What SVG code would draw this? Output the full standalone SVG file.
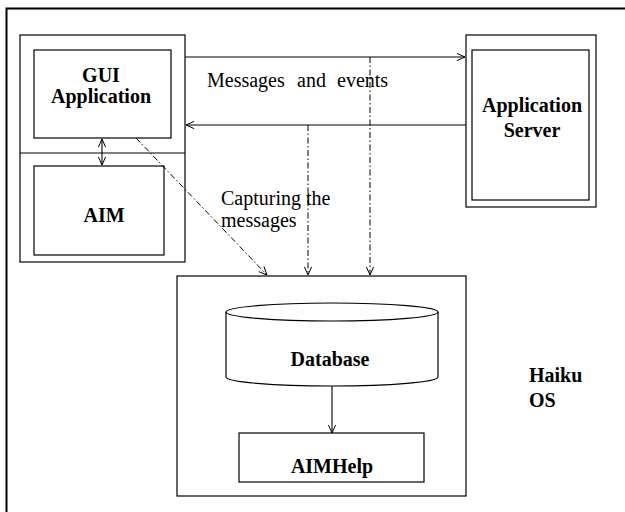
<svg xmlns="http://www.w3.org/2000/svg" width="625" height="512" viewBox="0 0 625 512">
<style>
.box{fill:#fff;stroke:#000;stroke-width:1.2}
.ln{fill:none;stroke:#000;stroke-width:1.1}
.dd{fill:none;stroke:#000;stroke-width:1;stroke-dasharray:6 2.5 1.5 2.5}
.b{font-family:"Liberation Serif","Times New Roman",serif;font-weight:bold;font-size:20px;fill:#000}
.r{font-family:"Liberation Serif","Times New Roman",serif;font-size:20px;fill:#000}
</style>
<defs>
<marker id="ah" viewBox="0 0 10 10" refX="10" refY="5" markerWidth="9" markerHeight="9" markerUnits="userSpaceOnUse" orient="auto-start-reverse">
<path d="M1,1 L10,5 L1,9" fill="none" stroke="#000" stroke-width="1.1"/>
</marker>
</defs>
<rect width="625" height="512" fill="#fff"/>
<g id="frame">
<path d="M6.5,512 L6.5,8.5 L625,8.5" fill="none" stroke="#000" stroke-width="2"/>
</g>
<g id="client">
<rect class="box" x="20" y="35" width="165" height="227"/>
<line class="ln" x1="20" y1="153" x2="185" y2="153"/>
</g>
<g id="gui">
<rect class="box" x="34" y="50" width="137" height="88"/>
<text class="b" x="101" y="82" text-anchor="middle">GUI</text>
<text class="b" x="101" y="103" text-anchor="middle">Application</text>
</g>
<g id="aim">
<rect class="box" x="34" y="166" width="130" height="89"/>
<text class="b" x="104" y="222" text-anchor="middle">AIM</text>
</g>
<g id="server">
<rect class="box" x="466" y="35" width="130" height="172"/>
<rect class="box" x="472" y="50" width="117" height="150"/>
<text class="b" x="532" y="112" text-anchor="middle">Application</text>
<text class="b" x="532" y="137" text-anchor="middle">Server</text>
</g>
<g id="haiku">
<rect class="box" x="177" y="276" width="289" height="220"/>
<text class="b" x="529" y="382">Haiku</text>
<text class="b" x="529" y="407">OS</text>
</g>
<g id="database">
<path class="box" d="M226,312 L226,377 A106,9 0 0 0 438,377 L438,312 A106,9 0 0 0 226,312 Z"/>
<path class="ln" d="M226,312 A106,9 0 0 0 438,312"/>
<text class="b" x="330" y="366" text-anchor="middle">Database</text>
</g>
<g id="aimhelp">
<rect class="box" x="239" y="433" width="185" height="49"/>
<text class="b" x="332" y="473" text-anchor="middle">AIMHelp</text>
</g>
<g id="connectors">
<line class="ln" x1="185" y1="57" x2="465" y2="57" marker-end="url(#ah)"/>
<line class="ln" x1="466" y1="125" x2="186" y2="125" marker-end="url(#ah)"/>
<line class="ln" x1="102" y1="139" x2="102" y2="165" marker-start="url(#ah)" marker-end="url(#ah)"/>
<line class="dd" x1="136" y1="138" x2="267" y2="275" marker-end="url(#ah)"/>
<line class="dd" x1="308" y1="125" x2="308" y2="275" marker-end="url(#ah)"/>
<line class="dd" x1="370" y1="57" x2="370" y2="275" marker-end="url(#ah)"/>
<line class="ln" x1="332" y1="386" x2="332" y2="433" marker-end="url(#ah)"/>
<text class="r" x="207" y="87">Messages<tspan x="297">and</tspan><tspan x="337">events</tspan></text>
<text class="r" x="221" y="205">Capturing the</text>
<text class="r" x="221" y="227">messages</text>
</g>
</svg>
